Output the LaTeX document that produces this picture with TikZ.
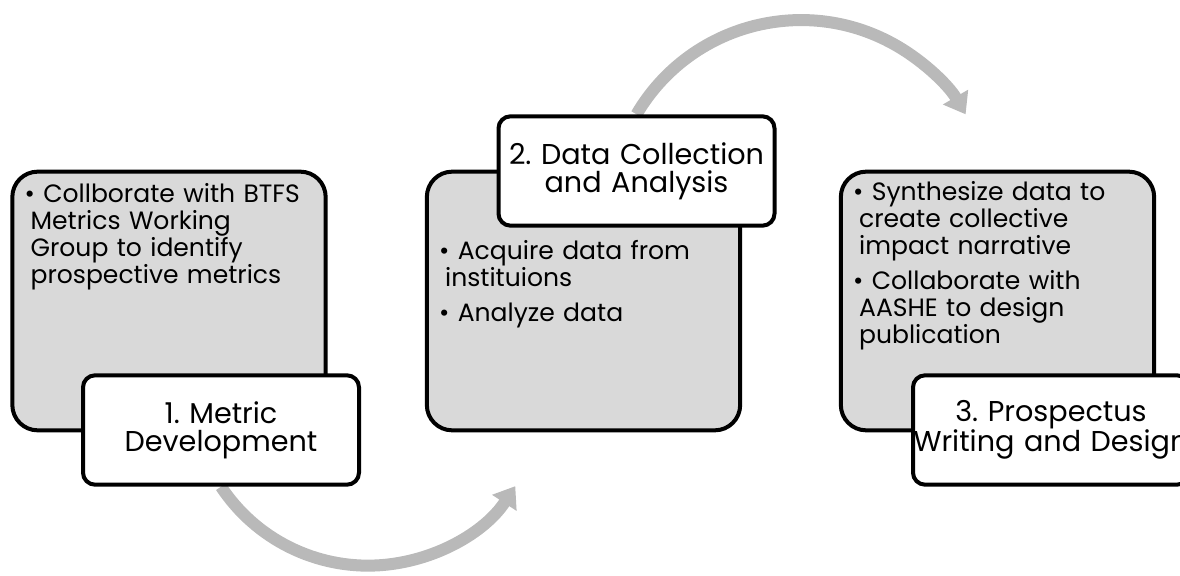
\documentclass[tikz,border=0pt]{standalone}
\usepackage{fontspec}
\setmainfont{Poppins}
\usepackage{xcolor}
\usetikzlibrary{arrows.meta, positioning}
\pgfdeclarelayer{back}
\pgfsetlayers{back,main}
\definecolor{boxgray}{HTML}{D9D9D9}
\definecolor{arcgray}{HTML}{B9B9B9}
\newcommand{\hang}{\hspace*{4.5pt}}
\frenchspacing

\tikzset{
  phase/.style={draw=black, line width=3pt, fill=boxgray, rounded corners=19pt,
    minimum width=235pt, minimum height=194pt, inner sep=0pt},
  phasetitle/.style={draw=black, line width=3pt, fill=white, rounded corners=9pt,
    text width=207pt, minimum height=82pt, inner sep=0pt, align=center,
    font=\fontsize{21.5}{21}\selectfont},
  tasks/.style={text width=225pt, align=left, inner sep=0pt, anchor=base west,
    font=\fontsize{18.8}{20.3}\selectfont},
  flowarc/.style={arcgray, line width=9pt, -{Triangle[width=21pt, length=15pt]}}
}

\begin{document}
\begin{tikzpicture}[x=0.75pt, y=0.75pt]
    \useasboundingbox (0,0) rectangle (1180,575);
    \clip (0,0) rectangle (1180,575);

    % grey panels
    \node[phase] (box1) at (169,274) {};
    \node[phase] (box2) at (583.5,274) {};
    \node[phase] (box3) at (997.5,274) {};

    % bullet texts
    \node[tasks] (txt1) at ([shift={(14,-33)}]box1.north west)
        {\textbullet\ Collborate with BTFS\\ \hang Metrics Working\\ \hang Group to identify\\ \hang prospective metrics};
    \node[tasks] (txt2) at ([shift={(14,-90)}]box2.north west)
        {\textbullet\ Acquire data from\\ \hang instituions\\[6pt] \textbullet\ Analyze data};
    \node[tasks] (txt3) at ([shift={(14,-31)}]box3.north west)
        {\textbullet\ Synthesize data to\\ \hang create collective\\ \hang impact narrative\\[6pt]
         \textbullet\ Collaborate with\\ \hang AASHE to design\\ \hang publication};

    % step titles
    \node[phasetitle] (lab1) at (221,145) {1. Metric\\Development};
    \node[phasetitle] (lab2) at (636.5,404) {2. Data Collection\\and Analysis};
    \node[phasetitle] (lab3) at (1051,145) {3. Prospectus\\Writing and Design};

    % curved arrows behind the titles
    \begin{pgfonlayer}{back}
        \draw[flowarc] (lab1.south) arc[start angle=213.5, end angle=326.7, radius=132.2pt];
        \draw[flowarc] (lab2.north) arc[start angle=149.6, end angle=30.4, radius=143.1pt];
    \end{pgfonlayer}
\end{tikzpicture}
\end{document}
